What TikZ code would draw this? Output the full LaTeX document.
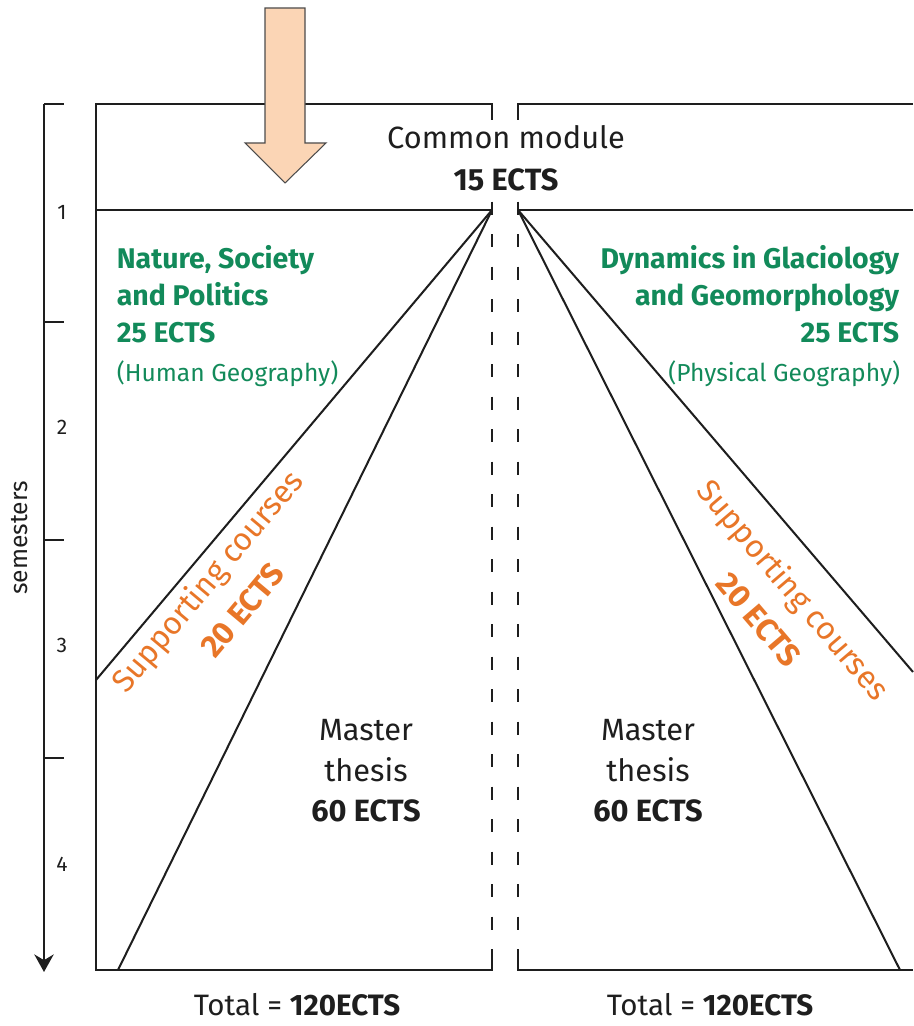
\documentclass[tikz,border=0pt]{standalone}
\usepackage{fontspec}
\setmainfont{Fira Sans}
\usepackage{tikz}
\usetikzlibrary{arrows.meta, positioning}
\definecolor{ectsgreen}{RGB}{18,138,90}
\definecolor{ectsorange}{RGB}{232,118,40}
\definecolor{arrowfill}{RGB}{251,213,181}
\definecolor{ink}{RGB}{30,30,30}

\begin{document}
\begin{tikzpicture}[x=0.02cm, y=-0.02cm, line width=1.15pt, draw=ink, text=ink,
  gap line/.style={line width=1.3pt, dash pattern=on 7.5pt off 11pt},
  big/.style={font=\fontsize{17.5}{23}\selectfont},
  green head/.style={text=ectsgreen, font=\bfseries\fontsize{16.2}{21}\selectfont},
  green sub/.style={text=ectsgreen, font=\fontsize{14}{16}\selectfont},
  orange text/.style={text=ectsorange, align=center, font=\fontsize{18}{26}\selectfont},
  sem/.style={font=\fontsize{12}{14}\selectfont}]
\useasboundingbox (0,0) rectangle (913,1026);

% corners of the two boxes
\coordinate (LT) at (96,104);
\coordinate (LB) at (96,970);
\coordinate (PL) at (492,210);
\coordinate (PR) at (518,210);
\coordinate (RE) at (913,104);

% dashed gap between the two tracks
\draw [gap line] (492,104) -- (492,970);
\draw [gap line] (518,104) -- (518,970);

% left track
\draw (492,120) -- (492,104) -- (LT) -- (LB) -- (492,970) -- (492,955);
\draw (96,210) -- (PL);
\draw (PL) -- (96,680);
\draw (PL) -- (118,970);

% right track
\draw (518,120) -- (518,104) -- (RE);
\draw (PR) -- (913,210);
\draw (518,955) -- (518,970) -- (913,970);
\draw (PR) -- (913,672);
\draw (PR) -- (900,970);

% entry arrow
\draw [fill=arrowfill, draw=black!70, line width=0.6pt] (265,8) -- (305,8) -- (305,143) -- (326,143)
  -- (285,183) -- (245,143) -- (265,143) -- cycle;

% common module
\node [big, fill=white, inner sep=1pt] (CM) at (506,137) {Common module};
\node [big, fill=white, inner sep=1pt, font=\bfseries\fontsize{17.5}{23}\selectfont] (CE) at (506,180) {15 ECTS};

% specialisations
\node [green head, anchor=west, align=left] (NSP) at (110,294) {Nature, Society\\and Politics\\25 ECTS};
\node [green sub, anchor=west] (HG) at (110,374) {(Human Geography)};
\node [green head, anchor=east, align=right] (DGG) at (906,294) {Dynamics in Glaciology\\and Geomorphology\\25 ECTS};
\node [green sub, anchor=east] (PG) at (907,374) {(Physical Geography)};

% supporting courses
\node [orange text, rotate=50] (SCL) at (224,595) {Supporting courses\\\textbf{20 ECTS}};
\node [orange text, rotate=-49.5] (SCR) at (777,604) {Supporting courses\\\textbf{20 ECTS}};

% master thesis
\node [big, align=center] (MTL) at (366,771) {Master\\thesis\\\textbf{60 ECTS}};
\node [big, align=center] (MTR) at (648,771) {Master\\thesis\\\textbf{60 ECTS}};

% totals
\node [big, font=\fontsize{16.8}{20}\selectfont] (TL) at (297,1005) {Total = \textbf{120ECTS}};
\node [big, font=\fontsize{16.8}{20}\selectfont] (TR) at (710,1005) {Total = \textbf{120ECTS}};

% semester axis
\draw [line width=1.4pt, -{Stealth[length=10pt, width=11pt]}] (44,104) -- (44,972);
\foreach \y in {104,322,540,758}
  \draw [line width=1.4pt] (44,\y) -- (64,\y);
\foreach \n/\y in {1/212,2/427,3/645,4/864}
  \node [sem] (S\n) at (62,\y) {\n};
\node [sem, rotate=90, font=\fontsize{14}{16}\selectfont] (SEM) at (20,538) {semesters};
\end{tikzpicture}
\end{document}
